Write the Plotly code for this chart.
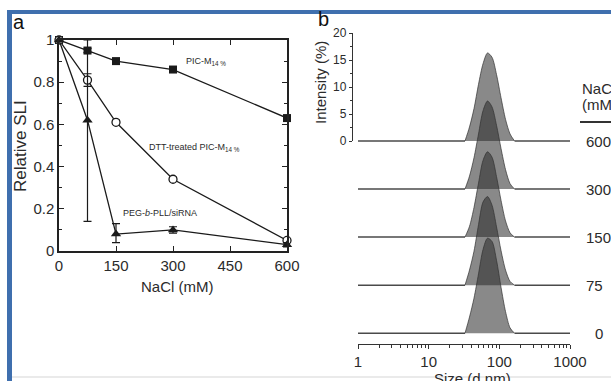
import plotly.graph_objects as go

# ---------------- Panel a data ----------------
nacl = [0, 75, 150, 300, 600]
pic = [1.0, 0.95, 0.90, 0.86, 0.63]
dtt = [1.0, 0.81, 0.61, 0.34, 0.05]
peg = [1.0, 0.62, 0.08, 0.10, 0.03]
pic_err = [0, 0.01, 0.01, 0.01, 0.01]
dtt_err = [0, 0.03, 0.01, 0.01, 0.01]
peg_err_plus = [0, 0.38, 0.05, 0.015, 0.01]
peg_err_minus = [0, 0.48, 0.04, 0.015, 0.01]
x_ticks_a = [0, 150, 300, 450, 600]

# ---------------- Panel b data ----------------
sizes = [32.67, 37.84, 43.82, 50.75, 58.77, 68.06, 78.82, 91.28, 105.7, 122.4, 141.8, 164.2]
int_600 = [0, 2.6, 6.0, 10.5, 14.3, 16.3, 15.5, 12.3, 8.0, 4.0, 1.3, 0]
int_300 = [0, 2.4, 5.8, 10.2, 14.5, 16.3, 15.2, 11.8, 7.5, 3.6, 1.0, 0]
int_150 = [0, 2.0, 5.5, 10.0, 14.2, 15.8, 14.8, 11.2, 6.8, 3.0, 0.8, 0]
int_75 = [0, 2.8, 6.3, 11.2, 15.4, 16.4, 14.8, 10.8, 6.4, 2.8, 0.7, 0]
int_0 = [0, 3.0, 6.5, 11.0, 15.5, 17.6, 17.0, 13.5, 8.5, 4.0, 1.0, 0]
row_labels = ["600", "300", "150", "75", "0"]
size_tickvals = [1, 10, 100, 1000]
size_ticktext = ["1", "10", "100", "1000"]

W, H = 611, 381
STEP = 8.9       # vertical offset between stacked distributions (%)
FONT = "Liberation Sans, Arial, sans-serif"
TXT = "#2b2b2b"


def px_x(p):
    return p / W


def px_y(p):
    return 1 - p / H


fig = go.Figure()

# ---- panel a traces ----
line_c = "#1a1a1a"
fig.add_trace(go.Scatter(
    x=nacl, y=pic, mode="lines+markers", xaxis="x", yaxis="y",
    line=dict(color=line_c, width=1.3),
    marker=dict(symbol="square", size=8, color=line_c),
    error_y=dict(type="data", array=pic_err, color=line_c, thickness=1.2, width=4),
    cliponaxis=False, showlegend=False))
fig.add_trace(go.Scatter(
    x=nacl, y=dtt, mode="lines+markers", xaxis="x", yaxis="y",
    line=dict(color=line_c, width=1.3),
    marker=dict(symbol="circle", size=8, color="white", line=dict(color=line_c, width=1.3)),
    error_y=dict(type="data", array=dtt_err, color=line_c, thickness=1.2, width=4),
    cliponaxis=False, showlegend=False))
fig.add_trace(go.Scatter(
    x=nacl, y=peg, mode="lines+markers", xaxis="x", yaxis="y",
    line=dict(color=line_c, width=1.3),
    marker=dict(symbol="triangle-up", size=9, color=line_c),
    error_y=dict(type="data", symmetric=False, array=peg_err_plus, arrayminus=peg_err_minus,
                 color=line_c, thickness=1.2, width=4),
    cliponaxis=False, showlegend=False))

# ---- panel b traces ----
series = [int_600, int_300, int_150, int_75, int_0]
base_c = "#4a4a4a"
for i, vals in enumerate(series):
    off = -STEP * i
    fig.add_trace(go.Scatter(x=[size_tickvals[0], sizes[0]], y=[off, off], mode="lines",
                             xaxis="x2", yaxis="y2", line=dict(color=base_c, width=1.5),
                             showlegend=False, hoverinfo="skip"))
    fig.add_trace(go.Scatter(x=[sizes[-1], size_tickvals[-1]], y=[off, off], mode="lines",
                             xaxis="x2", yaxis="y2", line=dict(color=base_c, width=1.5),
                             showlegend=False, hoverinfo="skip"))
for i, vals in enumerate(series):
    off = -STEP * i
    fig.add_trace(go.Scatter(
        x=sizes, y=[off + v for v in vals], mode="lines", xaxis="x2", yaxis="y2",
        fill="toself", fillcolor="rgba(40,40,40,0.55)",
        line=dict(color="rgba(50,50,50,0.7)", width=1, shape="spline", smoothing=0.8),
        showlegend=False, cliponaxis=False))

# invisible trace to create the intensity scale axis
fig.add_trace(go.Scatter(x=[1, 1000], y=[0, 20], mode="markers", xaxis="x3", yaxis="y3",
                         marker=dict(opacity=0), showlegend=False, hoverinfo="skip"))

axis_font = dict(family=FONT, size=15, color=TXT)
fig.update_layout(
    width=W, height=H, margin=dict(l=0, r=0, t=0, b=0, autoexpand=False),
    paper_bgcolor="white", plot_bgcolor="rgba(0,0,0,0)",
    font=dict(family=FONT, color=TXT),
    xaxis=dict(domain=[px_x(59), px_x(287)], range=[0, 600], anchor="y",
               tickvals=x_ticks_a, ticks="inside", ticklen=5, tickwidth=1.2, tickcolor="#222",
               showline=True, linecolor="#222", linewidth=1.5, mirror="ticks",
               showgrid=False, zeroline=False, tickfont=axis_font),
    yaxis=dict(domain=[px_y(251), px_y(40)], range=[0, 1], anchor="x",
               dtick=0.2, ticks="inside", ticklen=5, tickwidth=1.2, tickcolor="#222",
               minor=dict(dtick=0.1, ticks="inside", ticklen=3, tickcolor="#222"),
               showline=True, linecolor="#222", linewidth=1.5, mirror="ticks",
               showgrid=False, zeroline=False, tickfont=axis_font),
    xaxis2=dict(domain=[px_x(358), px_x(570)], type="log", range=[0, 3], anchor="y2",
                tickvals=size_tickvals, ticktext=size_ticktext, ticks="outside", ticklen=4,
                tickwidth=1.2, tickcolor="#333",
                minor=dict(tickvals=[m * d for d in (1, 10, 100) for m in range(2, 10)],
                           ticks="outside", ticklen=3, tickcolor="#333"),
                showline=True, linecolor="#333", linewidth=1.3,
                showgrid=False, zeroline=False, tickfont=axis_font),
    yaxis2=dict(domain=[px_y(344), px_y(33)], range=[-(344 - 141) / 5.4, 20], anchor="x2",
                visible=False),
    xaxis3=dict(domain=[px_x(358), px_x(570)], type="log", range=[0, 3], anchor="y3",
                visible=False),
    yaxis3=dict(domain=[px_y(141), px_y(33)], range=[0, 20], anchor="free", position=px_x(352),
                dtick=5, ticks="outside", ticklen=3, tickwidth=1.2, tickcolor="#333",
                minor=dict(dtick=2.5, ticks="outside", ticklen=2, tickcolor="#333"),
                showline=True, linecolor="#333", linewidth=1.3,
                showgrid=False, zeroline=False,
                tickfont=dict(family=FONT, size=12, color=TXT)),
)


def label(x, y, text, size=15, angle=0, xanchor="center", color=TXT):
    return dict(x=px_x(x), y=px_y(y), xref="paper", yref="paper", text=text,
                showarrow=False, xanchor=xanchor, yanchor="middle", textangle=angle,
                font=dict(family=FONT, size=size, color=color))


ann = []
small = dict(family=FONT, size=9, color=TXT)
ann.append(dict(x=330, y=0.90, xref="x", yref="y", text="PIC-M<sub>14 %</sub>",
                showarrow=False, xanchor="left", yanchor="middle", font=small))
ann.append(dict(x=231, y=0.49, xref="x", yref="y", text="DTT-treated PIC-M<sub>14 %</sub>",
                showarrow=False, xanchor="left", yanchor="middle", font=small))
ann.append(dict(x=163, y=0.18, xref="x", yref="y", text="PEG-<i>b</i>-PLL/siRNA",
                showarrow=False, xanchor="left", yanchor="middle", font=small))
ann.append(label(177, 286, "NaCl (mM)", 15))
ann.append(label(20, 146, "Relative SLI", 17, angle=-90))
ann.append(label(19, 22, "a", 20, color="#111"))
ann.append(label(323, 19, "b", 20, color="#111"))
ann.append(label(320, 83, "Intensity (%)", 15, angle=-90))
ann.append(label(472, 378, "Size (d.nm)", 15))
ann.append(label(580, 88, "NaCl", 15, xanchor="left"))
ann.append(label(580, 104, "(mM)", 15, xanchor="left"))
for i, lab in enumerate(row_labels):
    ann.append(dict(x=px_x(584) if len(lab) > 1 else px_x(593), y=-STEP * i, xref="paper", yref="y2",
                    text=lab, showarrow=False, xanchor="left", yanchor="middle",
                    font=dict(family=FONT, size=15, color=TXT)))
fig.update_layout(annotations=ann)

blue = "#3f6fae"
fig.update_layout(shapes=[
    dict(type="rect", xref="paper", yref="paper", x0=px_x(7), x1=1, y0=px_y(14), y1=px_y(10),
         fillcolor=blue, line=dict(width=0), layer="above"),
    dict(type="rect", xref="paper", yref="paper", x0=px_x(7), x1=px_x(12), y0=0, y1=px_y(10),
         fillcolor=blue, line=dict(width=0), layer="above"),
    dict(type="line", xref="paper", yref="paper", x0=px_x(580), x1=1, y0=px_y(122), y1=px_y(122),
         line=dict(color="#333", width=2)),
    dict(type="line", xref="paper", yref="paper", x0=px_x(12), x1=1, y0=px_y(377), y1=px_y(377),
         line=dict(color="#d5d5d5", width=1)),
])

fig.write_html(
    "out.html",
    config={"displayModeBar": False},
    post_script="document.body.style.margin='0';document.documentElement.style.overflow='hidden';",
)
